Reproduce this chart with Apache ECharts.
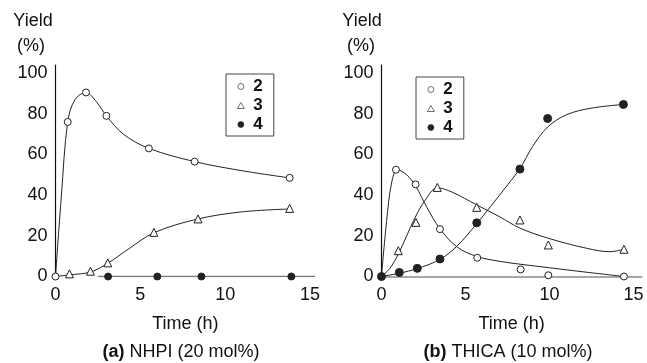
<!DOCTYPE html>
<html>
<head>
<meta charset="utf-8">
<script src="https://cdn.jsdelivr.net/npm/echarts@6/dist/echarts.min.js"></script>
<style>
html,body{margin:0;padding:0;background:#fff;}
#c{width:647px;height:363px;}
</style>
</head>
<body>
<div id="c"></div>
<script>
// ---- Data ----
var xTicks = [0, 5, 10, 15];
var yTicks = [0, 20, 40, 60, 80, 100];
var legendNames = ['2', '3', '4'];

// (a) NHPI (20 mol%)
var a2 = [[0,0],[0.72,76],[1.8,90.5],[3.0,79],[5.5,63],[8.2,56.5],[13.8,48.5]];
var a3 = [[0.82,1.3],[2.06,2.6],[3.08,6.7],[5.8,21.7],[8.4,28.3],[13.8,33.5]];
var a4 = [[3.1,0],[6.0,0],[8.6,0],[13.9,0]];
var a2Curve = [[0,0],[0.35,40],[0.72,76],[1.15,87],[1.8,90.5],[2.4,86],[3.0,79],[4.0,70],[5.5,63],[8.2,56.5],[11,52],[13.8,48.5]];
var a3Curve = [[0,0],[0.82,0.8],[2.06,2.2],[3.08,6.5],[4.3,13.5],[5.8,21.5],[8.4,28.3],[11,31.8],[13.8,33.2]];
var a4Curve = [[2.5,0],[15.3,0]];

// (b) THICA (10 mol%)
var b2 = [[0.86,52.5],[2.03,45.3],[3.48,23.3],[5.7,9.2],[8.28,3.5],[9.93,0.6],[14.43,0]];
var b3 = [[1.0,12.7],[2.05,26.6],[3.32,43.8],[5.67,34],[8.24,27.8],[9.93,15.5],[14.43,13.4]];
var b4 = [[0,0],[1.06,2],[2.13,4],[3.48,8.6],[5.67,26.4],[8.24,52.8],[9.89,77.7],[14.4,84.6]];
var b2Curve = [[0,0],[0.3,27],[0.6,46],[0.95,52.5],[1.5,50],[2.03,44.5],[2.7,34],[3.48,23.5],[4.5,14.5],[5.7,9.8],[7,7.5],[8.3,6],[10,4.3],[12,2.3],[14.43,0]];
var b3Curve = [[0,0],[0.5,4],[1.0,11],[1.5,20],[2.0,29],[2.6,37.5],[3.32,43.6],[4.2,41.5],[5.67,35.2],[7,29.5],[8.24,23.8],[9.93,18.8],[12.2,13.9],[13.6,12.2],[14.43,13.4]];
var b4Curve = [[0,0],[1.06,1.6],[2.13,3.9],[3.48,8.4],[4.5,15],[5.67,26],[6.5,34.5],[7.5,45],[8.24,53],[9,64],[9.89,73.5],[11,79.5],[12.5,82.8],[14.4,84.6]];

var subTitleA = '{b|(a)} NHPI (20 mol%)';
var subTitleB = '{b|(b)} THICA (10 mol%)';

// ---- Chart ----
var FONT = 'Liberation Sans, Arial, Helvetica, sans-serif';
var INK = '#222';

function xAxisCfg(idx, max, showLine) {
  return {
    type: 'value', gridIndex: idx, min: 0, max: max, interval: 5,
    axisLine: { show: showLine, lineStyle: { color: '#8a8a8a', width: 1.6 } },
    axisTick: { show: false }, splitLine: { show: false },
    axisLabel: { fontSize: 18, color: '#111', fontFamily: FONT, margin: 10,
      formatter: function (v) { return xTicks.indexOf(v) >= 0 ? String(v) : ''; } },
    name: 'Time (h)', nameLocation: 'middle', nameGap: 39,
    nameTextStyle: { fontSize: 18, color: '#111', fontFamily: FONT }
  };
}
function yAxisCfg(idx) {
  return {
    type: 'value', gridIndex: idx, min: 0, max: 104, interval: 20,
    axisLine: { show: true, lineStyle: { color: '#111', width: 1.2 } },
    axisTick: { show: false }, splitLine: { show: false },
    axisLabel: { fontSize: 18, color: '#111', fontFamily: FONT, margin: 8,
      formatter: function (v) { return yTicks.indexOf(v) >= 0 ? String(v) : ''; } }
  };
}
function pts(name, idx, data, sym, fill, size) {
  return {
    type: 'scatter', name: name, xAxisIndex: idx, yAxisIndex: idx, data: data,
    symbol: sym, symbolSize: size, z: 5,
    itemStyle: { color: fill, borderColor: INK, borderWidth: 1, opacity: 1 }
  };
}
function curve(idx, data, color, width, smooth) {
  return {
    type: 'line', xAxisIndex: idx, yAxisIndex: idx, data: data, smooth: smooth,
    showSymbol: false, symbol: 'none', z: 3, silent: true,
    lineStyle: { color: color, width: width }
  };
}
function legendCfg(left, top) {
  return {
    left: left, top: top, orient: 'vertical', data: legendNames,
    borderColor: '#444', borderWidth: 1, padding: [4, 11, 3, 11],
    itemGap: 2, itemWidth: 7, itemHeight: 6,
    itemStyle: { borderWidth: 0.7, borderColor: '#333' },
    textStyle: { fontSize: 17, fontWeight: 'bold', color: '#111', fontFamily: FONT, padding: [0, 0, 0, 4] },
    selectedMode: false
  };
}
function txt(text, left, top) {
  return {
    text: text, left: left, top: top, textAlign: 'center', padding: 0,
    textStyle: { fontSize: 18, fontWeight: 'normal', color: '#111', fontFamily: FONT,
      rich: { b: { fontSize: 18, fontWeight: 'bold', color: '#111', fontFamily: FONT } } }
  };
}

var chart = echarts.init(document.getElementById('c'), null, { renderer: 'canvas' });
chart.setOption({
  backgroundColor: '#fff',
  animation: false,
  title: [
    txt('Yield', 33, 12), txt('(%)', 31, 37),
    txt('Yield', 362, 12), txt('(%)', 361, 37),
    txt(subTitleA, 181, 343), txt(subTitleB, 508, 343)
  ],
  legend: [legendCfg(226, 74), legendCfg(416, 77)],
  grid: [
    { left: 55.5, top: 65, width: 259.6, height: 211.5 },
    { left: 381.5, top: 65, width: 260.4, height: 211.5 }
  ],
  xAxis: [xAxisCfg(0, 15.3, false), xAxisCfg(1, 15.5, true)],
  yAxis: [yAxisCfg(0), yAxisCfg(1)],
  series: [
    curve(0, a2Curve, INK, 1, 0.35),
    curve(0, a3Curve, INK, 1, 0.35),
    curve(0, a4Curve, '#777', 1.4, false),
    pts('2', 0, a2, 'circle', '#fff', 7),
    pts('3', 0, a3, 'triangle', '#fff', 8),
    pts('4', 0, a4, 'circle', INK, 7),
    curve(1, b2Curve, INK, 1, 0.35),
    curve(1, b3Curve, INK, 1, 0.35),
    curve(1, b4Curve, INK, 1, 0.35),
    pts('2', 1, b2, 'circle', '#fff', 7),
    pts('3', 1, b3, 'triangle', '#fff', 8),
    pts('4', 1, b4, 'circle', INK, 8)
  ]
});
</script>
</body>
</html>
